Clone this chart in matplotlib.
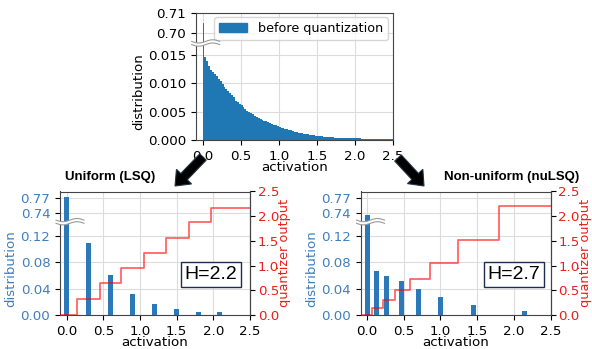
import numpy as np
import matplotlib
matplotlib.use("Agg")
import matplotlib.pyplot as plt
from matplotlib.patches import FancyArrow, Patch, Polygon
from matplotlib.lines import Line2D

W, H = 592, 349

# top panel: activation histogram before quantization (bins of 0.025)
BIN_W = 0.025
hist_vals = [
    0.705, 0.0147, 0.0140, 0.0131, 0.0124, 0.0120, 0.0116, 0.0113, 0.0108, 0.0104,
    0.0099, 0.0094, 0.0090, 0.0087, 0.0083, 0.0080, 0.0075, 0.0069, 0.0067, 0.0063,
    0.0061, 0.0058, 0.0054, 0.0052, 0.0049, 0.0047, 0.0045, 0.0043, 0.0041, 0.0039,
    0.0037, 0.0036, 0.0034, 0.0033, 0.0031, 0.0030, 0.0029, 0.0027, 0.0026, 0.0025,
    0.0023, 0.0022, 0.0021, 0.0020, 0.0019, 0.0018, 0.0017, 0.00155, 0.0014, 0.00135,
    0.0013, 0.0012, 0.00115, 0.0011, 0.00105, 0.0010, 0.00092, 0.00088, 0.00082, 0.00078,
    0.00072, 0.00068, 0.00062, 0.00060, 0.00056, 0.00054, 0.00050, 0.00049, 0.00046, 0.00044,
    0.00042, 0.00040, 0.00039, 0.00037, 0.00036, 0.00034, 0.00033, 0.00032, 0.00030, 0.00031,
    0.00029, 0.00028, 0.00027, 0.00026, 0.00025, 0.00025, 0.00024, 0.00023, 0.00022, 0.00022,
    0.00021, 0.00020, 0.00020, 0.00019, 0.00019, 0.00018, 0.00018, 0.00017, 0.00017, 0.00016,
]

# uniform quantizer (LSQ)
lsq_pos = [0.0, 0.3, 0.6, 0.9, 1.2, 1.5, 1.8, 2.09]
lsq_dist = [0.771, 0.109, 0.0614, 0.0322, 0.0164, 0.0087, 0.0046, 0.0046]
lsq_thr = [0.148, 0.45, 0.746, 1.05, 1.355, 1.664, 1.968]
lsq_lvl = [0.0, 0.317, 0.64, 0.943, 1.26, 1.56, 1.885, 2.17]

# non-uniform quantizer (nuLSQ)
nulsq_pos = [0.0, 0.123, 0.268, 0.468, 0.695, 0.996, 1.445, 2.14]
nulsq_dist = [0.7375, 0.0675, 0.060, 0.052, 0.040, 0.027, 0.0153, 0.0061]
nulsq_thr = [0.06, 0.21, 0.386, 0.59, 0.855, 1.24, 1.80]
nulsq_lvl = [0.0, 0.135, 0.303, 0.505, 0.72, 1.057, 1.515, 2.21]

XMIN, XMAX = -0.09, 2.5
FS = 9.6
BLUE = "#1f77b4"
LBLUE = "#3f7fbf"
RED = "#e8201c"

plt.rcParams.update({
    "font.family": "DejaVu Sans",
    "font.size": FS,
    "axes.edgecolor": "#444444",
    "axes.linewidth": 0.8,
    "axes.axisbelow": True,
    "grid.color": "#dcdcdc",
    "grid.linewidth": 0.8,
})

fig = plt.figure(figsize=(W / 100, H / 100), dpi=100)


def rect(x0, y0, x1, y1):
    return [x0 / W, 1 - y1 / H, (x1 - x0) / W, (y1 - y0) / H]


def broken_pair(x0, x1, ytop, ybrk, ybot, up_lim, lo_lim, up_ticks, lo_ticks, fmt_up, fmt_lo, color):
    up = fig.add_axes(rect(x0, ytop, x1, ybrk))
    lo = fig.add_axes(rect(x0, ybrk, x1, ybot))
    for ax in (up, lo):
        ax.set_xlim(XMIN, XMAX)
        ax.set_xticks(np.arange(0, 2.51, 0.5))
        ax.grid(True)
        ax.tick_params(axis="y", labelcolor=color, labelsize=FS)
        ax.tick_params(axis="x", labelsize=FS)
    up.set_ylim(*up_lim)
    lo.set_ylim(*lo_lim)
    up.set_yticks(up_ticks)
    lo.set_yticks(lo_ticks)
    up.set_yticklabels([fmt_up % v for v in up_ticks])
    lo.set_yticklabels([fmt_lo % v for v in lo_ticks])
    up.spines["bottom"].set_visible(False)
    lo.spines["top"].set_visible(False)
    up.tick_params(axis="x", bottom=False, labelbottom=False)
    lo.set_xticklabels(["%.1f" % v for v in np.arange(0, 2.51, 0.5)])
    lo.set_xlabel("activation", fontsize=FS, labelpad=-1)
    lo.set_ylabel("distribution", fontsize=FS, color=color, labelpad=2)
    return up, lo


def break_mark(xs, y):
    # wavy white band over the left spine, in figure pixels
    t = np.linspace(0, 1, 40)
    px = xs - 4 + 28 * t
    py = y + 1.6 * np.sin(2 * np.pi * t)
    tr = fig.dpi_scale_trans
    top = np.c_[px / 100, (H - (py - 1.6)) / 100]
    bot = np.c_[px / 100, (H - (py + 1.6)) / 100]
    fig.add_artist(Polygon(np.vstack([top, bot[::-1]]), closed=True, transform=tr,
                           facecolor="white", edgecolor="none", zorder=10))
    for c in (top, bot):
        fig.add_artist(Line2D(c[:, 0], c[:, 1], transform=tr, color="#9a9a9a",
                              lw=0.8, zorder=11))


# ---------------- top panel ----------------
edges = np.arange(len(hist_vals) + 1) * BIN_W
t_up, t_lo = broken_pair(195.7, 393, 12.7, 43, 140, (0.695, 0.7102), (0, 0.0171),
                         [0.70, 0.71], [0.0, 0.005, 0.010, 0.015], "%.2f", "%.3f", "black")
for ax in (t_up, t_lo):
    ax.stairs(hist_vals, edges, fill=True, color=BLUE)
break_mark(195.7, 43)
fig.legend(handles=[Patch(color=BLUE, label="before quantization")], loc="upper right",
           bbox_to_anchor=(388 / W, 1 - 17 / H), borderaxespad=0, fontsize=9.2,
           handlelength=2.2, handleheight=0.7)

# ---------------- bottom panels ----------------
panels = [
    (60, 250, lsq_pos, lsq_dist, lsq_thr, lsq_lvl, "H=2.2", 211, "Uniform (LSQ)", 110),
    (360.5, 550.5, nulsq_pos, nulsq_dist, nulsq_thr, nulsq_lvl, "H=2.7", 514, "Non-uniform (nuLSQ)", 512),
]
for x0, x1, pos, dist, thr, lvl, htxt, hx, title, tx in panels:
    up, lo = broken_pair(x0, x1, 191.5, 221.7, 315, (0.724, 0.782), (0, 0.142),
                         [0.74, 0.77], [0.0, 0.04, 0.08, 0.12], "%.2f", "%.2f", LBLUE)
    for ax in (up, lo):
        ax.bar(pos, dist, width=0.068, color="#2b79b9")
    full = fig.add_axes(rect(x0, 191.5, x1, 315), facecolor="none")
    for s in ("left", "top", "bottom"):
        full.spines[s].set_visible(False)
    full.set_xlim(XMIN, XMAX)
    full.set_ylim(0, 2.5)
    full.set_xticks([])
    full.yaxis.tick_right()
    full.yaxis.set_label_position("right")
    full.set_yticks(np.arange(0, 2.51, 0.5))
    full.set_yticklabels(["%.1f" % v for v in np.arange(0, 2.51, 0.5)])
    full.tick_params(axis="y", labelcolor=RED, labelsize=FS, pad=2)
    full.set_ylabel("quantizer output", color=RED, fontsize=9.3, labelpad=-0.5)
    full.step([XMIN] + thr + [XMAX], lvl + [lvl[-1]], where="post",
              color="red", alpha=0.6, lw=1.3)
    break_mark(x0, 221.7)
    fig.text(hx / W, 1 - 274.5 / H, htxt, ha="center", va="center",
             family="Liberation Sans", fontsize=14, zorder=20,
             bbox=dict(boxstyle="square,pad=0.2", facecolor="white",
                       edgecolor="#1f2d4d", linewidth=1.0))
    fig.text(tx / W, 1 - 177 / H, title, ha="center", va="center",
             family="Liberation Sans", fontweight="bold", fontsize=9.5)

# arrows from top panel to bottom panels
for (xa, ya), (xb, yb) in [((203, 157), (175, 186)), ((398, 158), (424, 186))]:
    fig.add_artist(FancyArrow(xa / 100, (H - ya) / 100, (xb - xa) / 100, -(yb - ya) / 100,
                              width=0.09, head_width=0.21, head_length=0.13,
                              length_includes_head=True, transform=fig.dpi_scale_trans,
                              facecolor="black", edgecolor="#223344", lw=0.8, zorder=15))

fig.savefig("out.png", dpi=100)
